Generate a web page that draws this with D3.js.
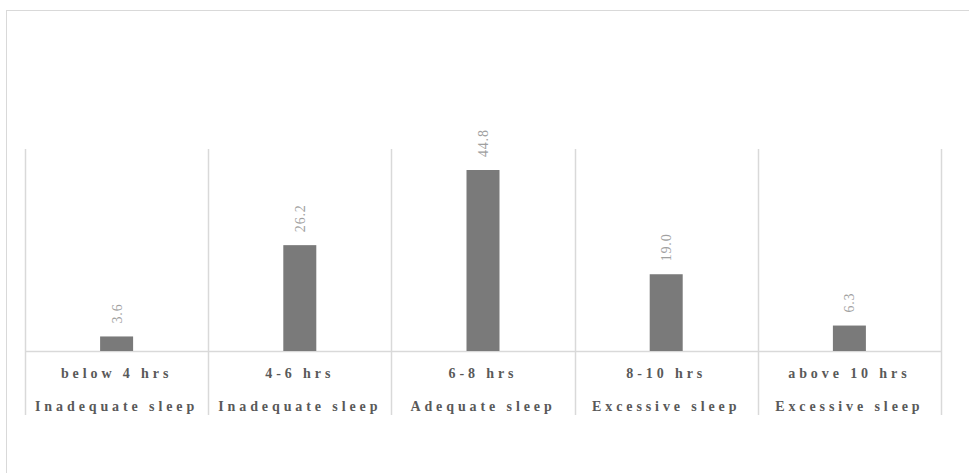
<!DOCTYPE html>
<html>
<head>
<meta charset="utf-8">
<script src="https://cdn.jsdelivr.net/npm/d3@7"></script>
<style>
  body { margin: 0; background: #fff; }
  svg { display: block; }
</style>
</head>
<body>
<div id="chart"></div>
<script>
// Chart data.
const RANGES = ['below 4 hrs', '4-6 hrs', '6-8 hrs', '8-10 hrs', 'above 10 hrs'];
const GROUPS = ['Inadequate sleep', 'Inadequate sleep', 'Adequate sleep', 'Excessive sleep', 'Excessive sleep'];
const VALUES = [3.6, 26.2, 44.8, 19.0, 6.3];

const config = {
    width: 969,
    height: 473,
    margin: {top: 149, left: 25, right: 28, bottom: 122},
    gridColor: '#d9d9d9',
    barColor: '#7a7a7a'
};

const svg = d3.select('#chart').append('svg')
    .attr('width', config.width)
    .attr('height', config.height);

// Outer chart border (cropped on the right and bottom).
svg.append('rect')
    .attr('x', 6.5)
    .attr('y', 10.5)
    .attr('width', 980)
    .attr('height', 500)
    .attr('fill', 'none')
    .attr('stroke', config.gridColor)
    .attr('stroke-width', 1);

const plotW = config.width - config.margin.left - config.margin.right;
const plotH = config.height - config.margin.top - config.margin.bottom;

const chart = svg.append('g')
    .attr('transform', `translate(${config.margin.left},${config.margin.top})`);

const xScale = d3.scaleBand()
    .domain(d3.range(VALUES.length))
    .range([0, plotW])
    .paddingInner(0)
    .paddingOuter(0);

const yScale = d3.scaleLinear()
    .domain([0, 50])
    .range([plotH, 0]);

// Category separators.
chart.selectAll('.sep')
    .data(d3.range(VALUES.length + 1))
    .join('line')
    .attr('class', 'sep')
    .attr('x1', i => Math.round(i * xScale.step()) + 0.5)
    .attr('x2', i => Math.round(i * xScale.step()) + 0.5)
    .attr('y1', 0)
    .attr('y2', plotH + 64)
    .attr('stroke', config.gridColor)
    .attr('stroke-width', 1.5);

// Baseline.
chart.append('line')
    .attr('x1', 0)
    .attr('x2', plotW)
    .attr('y1', yScale(0) + 0.5)
    .attr('y2', yScale(0) + 0.5)
    .attr('stroke', config.gridColor)
    .attr('stroke-width', 1.5);

const barW = 33;

chart.selectAll('.bar')
    .data(VALUES)
    .join('rect')
    .attr('class', 'bar')
    .attr('x', (_, i) => xScale(i) + xScale.bandwidth() / 2 - barW / 2)
    .attr('y', d => yScale(d))
    .attr('width', barW)
    .attr('height', d => yScale(0) - yScale(d))
    .attr('fill', config.barColor);

// Value labels, rotated.
chart.selectAll('.val')
    .data(VALUES)
    .join('text')
    .attr('class', 'val')
    .attr('transform', (d, i) => `translate(${xScale(i) + xScale.bandwidth() / 2 + 5},${yScale(d) - 13}) rotate(-90)`)
    .attr('font-family', '"Liberation Serif", "Times New Roman", serif')
    .attr('font-size', 14)
    .attr('letter-spacing', 0.8)
    .attr('fill', '#a0a0a0')
    .text(d => d.toFixed(1));

// Category labels (two lines).
const labelFont = '"Liberation Serif", "Times New Roman", serif';
chart.selectAll('.cat')
    .data(RANGES)
    .join('text')
    .attr('class', 'cat')
    .attr('x', (_, i) => xScale(i) + xScale.bandwidth() / 2)
    .attr('y', yScale(0) + 27)
    .attr('text-anchor', 'middle')
    .attr('font-family', labelFont)
    .attr('font-weight', 'bold')
    .attr('font-size', 14)
    .attr('letter-spacing', 3.9)
    .attr('fill', '#595959')
    .text(d => d);

chart.selectAll('.grp')
    .data(GROUPS)
    .join('text')
    .attr('class', 'grp')
    .attr('x', (_, i) => xScale(i) + xScale.bandwidth() / 2)
    .attr('y', yScale(0) + 60)
    .attr('text-anchor', 'middle')
    .attr('font-family', labelFont)
    .attr('font-weight', 'bold')
    .attr('font-size', 14)
    .attr('letter-spacing', 3.9)
    .attr('fill', '#595959')
    .text(d => d);
</script>
</body>
</html>
